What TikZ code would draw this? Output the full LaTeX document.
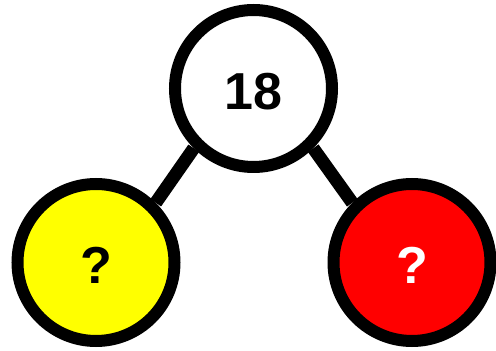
\documentclass[tikz,border=0pt]{standalone}
\usepackage{fontspec}
\setmainfont{Liberation Sans}
\usetikzlibrary{backgrounds}
\definecolor{partyellow}{RGB}{255,255,0}
\definecolor{partred}{RGB}{255,0,0}
\tikzset{
  part/.style={circle, draw=black, line width=12pt, minimum size=157pt, inner sep=0pt,
    font=\fontsize{52}{52}\selectfont\bfseries, text height=42pt, text depth=0pt},
  bond/.style={line width=13pt}
}
\begin{document}
\begin{tikzpicture}[x=1pt,y=1pt]
      \useasboundingbox (0,0) rectangle (496,351);
      \draw
        (253.5,262.5) node[part, fill=white] (whole){18}
        (96,88.5) node[part, fill=partyellow] (left){?}
        (412,88.5) node[part, fill=partred, text=white] (right){?};
      \begin{scope}[on background layer]
        \draw[bond] (whole.225) to (left.45);
        \draw[bond] (whole.-45) to (right.135);
      \end{scope}
    \end{tikzpicture}
\end{document}
